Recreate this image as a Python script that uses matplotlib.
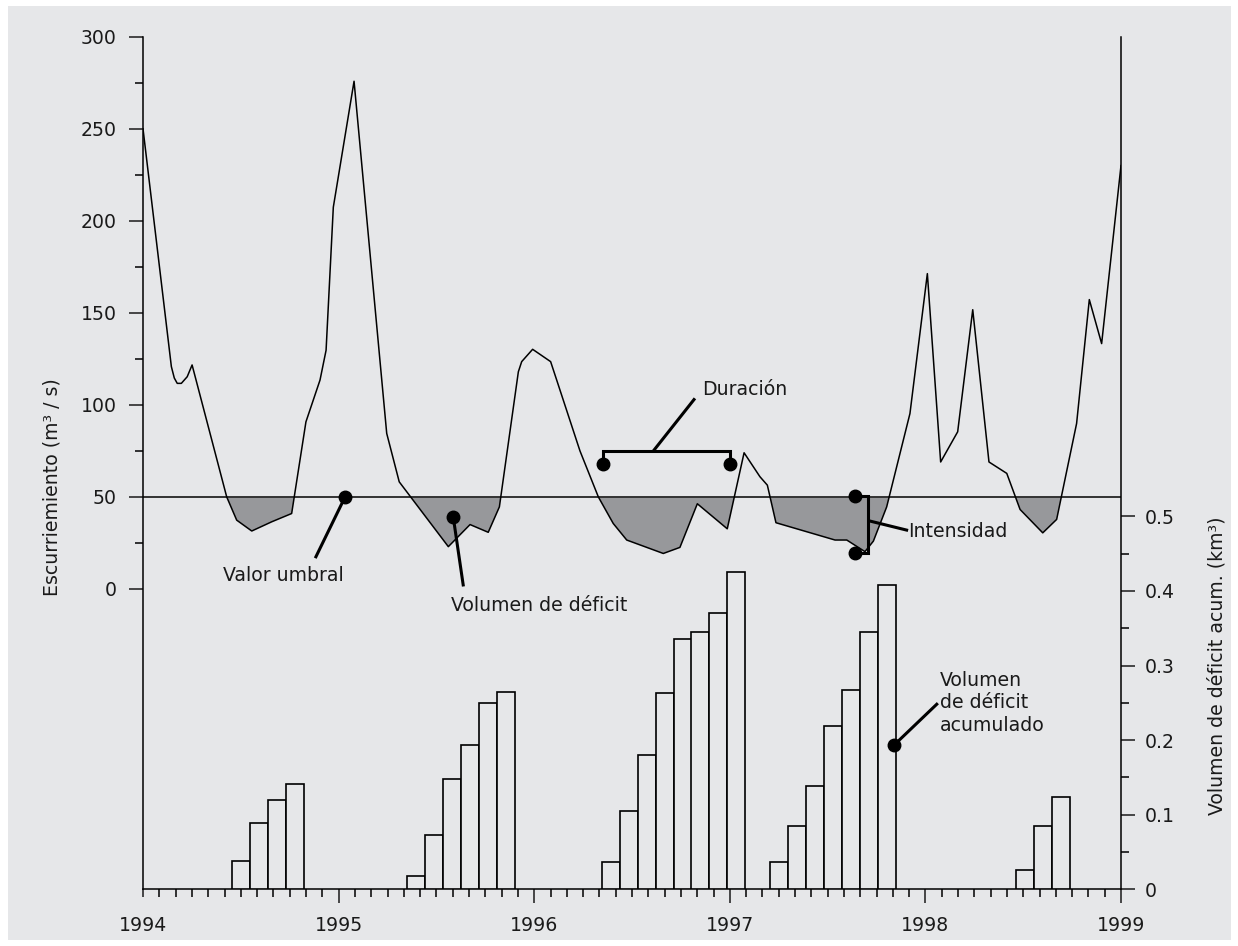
import matplotlib
matplotlib.use("Agg")
import matplotlib.pyplot as plt
from matplotlib.patches import Rectangle
import numpy as np

# ---------------- data ----------------
flow_t = [1994.000, 1994.145, 1994.160, 1994.175, 1994.196, 1994.226, 1994.251,
          1994.428, 1994.479, 1994.556, 1994.658, 1994.760, 1994.833, 1994.905, 1994.936,
          1994.973, 1995.079, 1995.246, 1995.310, 1995.561, 1995.672, 1995.765, 1995.822,
          1995.919, 1995.936, 1995.992, 1996.084, 1996.115, 1996.234, 1996.328, 1996.404,
          1996.473, 1996.660, 1996.745, 1996.834, 1996.987, 1997.073, 1997.154, 1997.192,
          1997.236, 1997.538, 1997.598, 1997.691, 1997.734, 1997.802, 1997.921, 1998.010,
          1998.078, 1998.165, 1998.242, 1998.325, 1998.416, 1998.484, 1998.600, 1998.671,
          1998.773, 1998.838, 1998.901, 1999.000]
flow_q = [250, 120.8, 114.6, 111.7, 111.7, 115.3, 121.7,
          50, 37.4, 31.5, 36.5, 41, 90.8, 113.5, 129.7,
          207.4, 275.8, 84.5, 58.2, 23, 35, 30.8, 44.6,
          118, 123.5, 130.2, 123.5, 113.5, 75, 50, 35.6,
          26.6, 19.3, 22.6, 46.3, 32.7, 74, 61, 56.4,
          36, 26.6, 26.6, 20.3, 26, 44.6, 95.3, 171.3,
          69, 85.4, 151.7, 69, 62.8, 43.2, 30.5, 37.8,
          89.9, 157.2, 133.3, 230]

threshold = 50

bar_t = [1994.502, 1994.592, 1994.684, 1994.776,
         1995.395, 1995.488, 1995.580, 1995.672, 1995.763, 1995.854,
         1996.391, 1996.483, 1996.575, 1996.667, 1996.759, 1996.850, 1996.941, 1997.033,
         1997.252, 1997.344, 1997.436, 1997.528, 1997.620, 1997.711, 1997.802,
         1998.509, 1998.601, 1998.693]
bar_v = [0.037, 0.088, 0.120, 0.141,
         0.018, 0.072, 0.147, 0.193, 0.249, 0.264,
         0.036, 0.105, 0.180, 0.263, 0.336, 0.345, 0.371, 0.426,
         0.036, 0.085, 0.138, 0.219, 0.267, 0.345, 0.408,
         0.026, 0.085, 0.124]

year_ticks = [1994, 1995, 1996, 1997, 1998, 1999]
left_ticks = [0, 50, 100, 150, 200, 250, 300]
right_ticks = [0, 0.1, 0.2, 0.3, 0.4, 0.5]
right_labels = ["0", "0.1", "0.2", "0.3", "0.4", "0.5"]

# ---------------- style ----------------
BG = "#e6e7e9"
FILL = "#97989b"
TXT = "#1a1a1a"
FS = 13.6
plt.rcParams["font.family"] = ["DejaVu Sans"]

W, H = 1238, 946
fig = plt.figure(figsize=(W / 100, H / 100), dpi=100, facecolor="white")
fig.patches.append(Rectangle((8 / W, 6 / H), (1231 - 8) / W, (940 - 6) / H,
                             transform=fig.transFigure, facecolor=BG,
                             edgecolor="none", zorder=-10))

x0, x1 = 143, 1121
ytop, ybot = 36.7, 889
ax = fig.add_axes([x0 / W, 1 - ybot / H, (x1 - x0) / W, (ybot - ytop) / H])
ax.set_facecolor("none")
ax2 = ax.twinx()
ax2.set_facecolor("none")

# left axis scaling: 0 at y=589 px, 300 at top
px_per_q = (589 - ytop) / 300.0
ax.set_ylim(-(ybot - 589) / px_per_q, 300)
ax.set_xlim(1994, 1999)
# right axis: 0 at bottom, 0.1 per 74.5 px
ax2.set_ylim(0, (ybot - ytop) / 745.0)

# flow + deficit
ft = np.array(flow_t)
fq = np.array(flow_q)
ax.fill_between(ft, fq, threshold, where=fq < threshold, interpolate=True,
                facecolor=FILL, edgecolor="none", zorder=1)
ax.plot(ft, fq, color="black", lw=1.1, zorder=3)
ax.axhline(threshold, color="#333333", lw=1.4, zorder=2)

# bars
ax2.bar(bar_t, bar_v, width=0.092, facecolor=BG, edgecolor="black",
        linewidth=1.2, zorder=2)

# spines
for s in ["top", "right"]:
    ax.spines[s].set_visible(False)
for s in ["top", "left", "bottom"]:
    ax2.spines[s].set_visible(False)
ax.spines["left"].set_linewidth(1.1)
ax.spines["bottom"].set_linewidth(1.1)
ax2.spines["right"].set_linewidth(1.1)

# ticks
ax.set_xticks(year_ticks)
ax.set_xticklabels([str(y) for y in year_ticks])
ax.set_xticks([1994 + m / 12 for m in range(61) if m % 12 != 0], minor=True)
ax.tick_params(axis="x", which="major", length=10, width=1.1, pad=9.5,
               labelsize=FS, colors=TXT, direction="out")
ax.tick_params(axis="x", which="minor", length=5.5, width=1.1, direction="out")
ax.xaxis.get_major_ticks()[0].tick1line.set_markersize(5.5)

ax.set_yticks(left_ticks)
ax.set_yticks([25, 75, 125, 175, 225, 275], minor=True)
ax.tick_params(axis="y", which="major", length=10, width=1.1, pad=9,
               labelsize=FS, colors=TXT)
ax.tick_params(axis="y", which="minor", length=5.5, width=1.1)

ax2.set_yticks(right_ticks)
ax2.set_yticklabels(right_labels)
ax2.set_yticks([0.05, 0.15, 0.25, 0.35, 0.45], minor=True)
ax2.tick_params(axis="y", which="major", length=10, width=1.1, pad=7,
                labelsize=FS, colors=TXT)
ax2.tick_params(axis="y", which="minor", length=5.5, width=1.1)

# axis labels
fig.text(52 / W, 1 - 487 / H, "Escurriemiento (m³ / s)", rotation=90,
         ha="center", va="center", fontsize=FS, color=TXT)
fig.text(1217 / W, 1 - 666 / H, "Volumen de déficit acum. (km³)", rotation=90,
         ha="center", va="center", fontsize=FS, color=TXT)

# ---------------- annotations ----------------
LW = 2.2
MS = 9
# Valor umbral
ax.plot([1995.033, 1994.884], [50, 17.5], color="black", lw=LW, zorder=5)
ax.plot([1995.033], [50], "o", color="black", ms=MS, zorder=6)
ax.text(1994.716, 7.6, "Valor umbral", ha="center", va="center", fontsize=FS, color=TXT)

# Volumen de deficit
ax.plot([1995.586, 1995.637], [39.2, 2.2], color="black", lw=LW, zorder=5)
ax.plot([1995.586], [39.2], "o", color="black", ms=MS, zorder=6)
ax.text(1996.025, -8.7, "Volumen de déficit", ha="center", va="center", fontsize=FS, color=TXT)

# Duracion
d0, d1, dy, dtop = 1996.350, 1997.001, 67.8, 75.1
ax.plot([d0, d0, d1, d1], [dy, dtop, dtop, dy], color="black", lw=LW, zorder=5,
        solid_joinstyle="miter")
ax.plot([d0, d1], [dy, dy], "o", color="black", ms=MS, zorder=6)
ax.plot([1996.610, 1996.817], [dtop, 102.9], color="black", lw=LW, zorder=5)
ax.text(1996.861, 108.1, "Duración", ha="left", va="center", fontsize=FS, color=TXT)

# Intensidad
i0, i1, ilo = 1997.640, 1997.708, 19.7
ax.plot([i0, i1, i1, i0], [50.6, 50.6, ilo, ilo], color="black", lw=LW, zorder=5,
        solid_joinstyle="miter")
ax.plot([i0, i0], [50.6, ilo], "o", color="black", ms=MS, zorder=6)
ax.plot([1997.717, 1997.904], [36.9, 32.0], color="black", lw=LW, zorder=5)
ax.text(1997.911, 31.0, "Intensidad", ha="left", va="center", fontsize=FS, color=TXT)

# Volumen de deficit acumulado
ax2.plot([1997.839, 1998.058], [0.193, 0.248], color="black", lw=LW, zorder=5)
ax2.plot([1997.839], [0.193], "o", color="black", ms=MS, zorder=6)
ax2.text(1998.075, 0.250, "Volumen\nde déficit\nacumulado", ha="left", va="center",
         fontsize=FS, color=TXT, linespacing=1.25)

fig.savefig("out.png", dpi=100, facecolor="white")
